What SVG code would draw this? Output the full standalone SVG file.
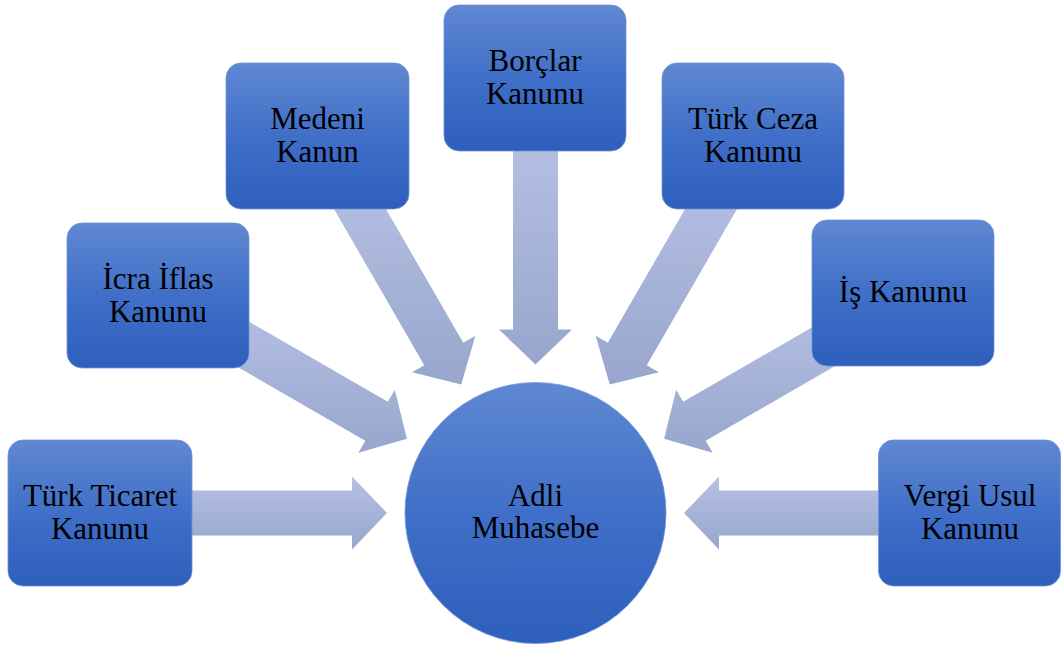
<svg xmlns="http://www.w3.org/2000/svg" width="1061" height="650" viewBox="0 0 1061 650">
  <defs>
    <linearGradient id="nodeGrad" x1="0" y1="0" x2="0" y2="1">
      <stop offset="0" stop-color="#6088d2"/>
      <stop offset="0.5" stop-color="#3f6fc8"/>
      <stop offset="1" stop-color="#2e5fbc"/>
    </linearGradient>
    <linearGradient id="arrowGrad" x1="0" y1="0" x2="0" y2="1">
      <stop offset="0" stop-color="#b5c1e3"/>
      <stop offset="1" stop-color="#98a6cd"/>
    </linearGradient>
    <style>
      .arrow { fill: url(#arrowGrad); }
      .box { fill: url(#nodeGrad); stroke: #6f93d6; stroke-width: 0.8; }
      .lbl { font-family: "Liberation Serif", "Times New Roman", serif; font-size: 31px; fill: #000; text-anchor: middle; }
    </style>
  </defs>
  <rect width="1061" height="650" fill="#ffffff"/>

  <g id="connectors">
    <polygon class="arrow" points="155.5,490.5 352,490.5 352,476.5 387,513 352,549.5 352,535.5 155.5,535.5"/>
    <polygon class="arrow" points="217.66,303.51 387.83,401.76 394.83,389.64 406.90,438.75 358.33,452.86 365.33,440.74 195.16,342.49"/>
    <polygon class="arrow" points="364.99,172.66 463.24,342.83 475.36,335.83 461.25,384.40 412.14,372.33 424.26,365.33 326.01,195.16"/>
    <polygon class="arrow" points="558,133 558,329.5 572,329.5 535.5,364.5 499,329.5 513,329.5 513,133"/>
    <polygon class="arrow" points="744.99,195.16 646.74,365.33 658.86,372.33 609.75,384.40 595.64,335.83 607.76,342.83 706.01,172.66"/>
    <polygon class="arrow" points="875.84,342.49 705.67,440.74 712.67,452.86 664.11,438.75 676.17,389.64 683.17,401.76 853.34,303.51"/>
    <polygon class="arrow" points="915.5,535.5 719,535.5 719,549.5 684,513 719,476.5 719,490.5 915.5,490.5"/>
  </g>

  <g id="node-turk-ticaret">
    <rect class="box" x="8" y="440" width="184" height="146" rx="15"/>
    <text class="lbl" x="100" y="506">Türk Ticaret</text>
    <text class="lbl" x="100" y="539">Kanunu</text>
  </g>
  <g id="node-icra-iflas">
    <rect class="box" x="67" y="223" width="182" height="145" rx="15"/>
    <text class="lbl" x="158" y="289">İcra İflas</text>
    <text class="lbl" x="158" y="322">Kanunu</text>
  </g>
  <g id="node-medeni">
    <rect class="box" x="226" y="63" width="183" height="146" rx="15"/>
    <text class="lbl" x="317.5" y="129">Medeni</text>
    <text class="lbl" x="317.5" y="162">Kanun</text>
  </g>
  <g id="node-borclar">
    <rect class="box" x="444" y="5" width="182" height="146" rx="15"/>
    <text class="lbl" x="535" y="71">Borçlar</text>
    <text class="lbl" x="535" y="104">Kanunu</text>
  </g>
  <g id="node-turk-ceza">
    <rect class="box" x="662" y="63" width="182" height="146" rx="15"/>
    <text class="lbl" x="753" y="129">Türk Ceza</text>
    <text class="lbl" x="753" y="162">Kanunu</text>
  </g>
  <g id="node-is">
    <rect class="box" x="812" y="220" width="182" height="146" rx="15"/>
    <text class="lbl" x="903" y="302">İş Kanunu</text>
  </g>
  <g id="node-vergi-usul">
    <rect class="box" x="878.5" y="440" width="182" height="146" rx="15"/>
    <text class="lbl" x="970" y="506">Vergi Usul</text>
    <text class="lbl" x="970" y="539">Kanunu</text>
  </g>
  <g id="node-adli-muhasebe">
    <circle class="box" cx="535.5" cy="513" r="130.5"/>
    <text class="lbl" x="535.5" y="506">Adli</text>
    <text class="lbl" x="535.5" y="538">Muhasebe</text>
  </g>
</svg>
